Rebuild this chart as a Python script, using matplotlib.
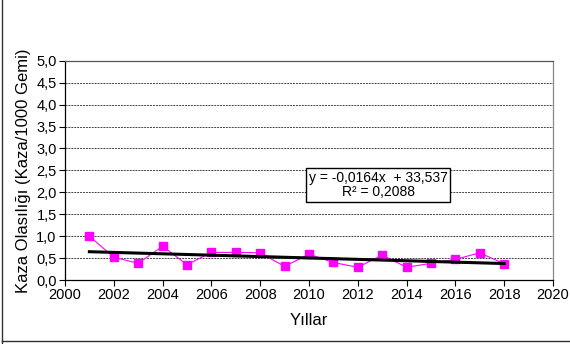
import matplotlib
matplotlib.use("Agg")
import matplotlib.pyplot as plt
import numpy as np
from matplotlib.lines import Line2D

years = [2001, 2002, 2003, 2004, 2005, 2006, 2007, 2008, 2009, 2010,
         2011, 2012, 2013, 2014, 2015, 2016, 2017, 2018]
values = [1.00, 0.52, 0.38, 0.77, 0.35, 0.63, 0.63, 0.62, 0.31, 0.59,
          0.40, 0.29, 0.57, 0.29, 0.38, 0.47, 0.62, 0.37]
x_ticks = [2000, 2002, 2004, 2006, 2008, 2010, 2012, 2014, 2016, 2018, 2020]
y_ticks = [0.0, 0.5, 1.0, 1.5, 2.0, 2.5, 3.0, 3.5, 4.0, 4.5, 5.0]
eq_text = "y = -0,0164x  + 33,537\nR² = 0,2088"

plt.rcParams['font.family'] = ['Liberation Sans', 'DejaVu Sans']

fig = plt.figure(figsize=(5.7, 3.44), dpi=100)
ax = fig.add_axes([0.114, 0.186, 0.856, 0.6375])

for y in y_ticks[1:-1]:
    ax.axhline(y, color='#444444', lw=0.7, ls=(0, (2, 1)), zorder=1)

ax.plot(years, values, color='#FF00FF', lw=0.8, marker='s', ms=5.5,
        markerfacecolor='#FF00FF', markeredgecolor='#FF00FF', zorder=3)

coef = np.polyfit(years, values, 1)
xs = np.array([years[0], years[-1]])
ax.plot(xs, np.polyval(coef, xs), color='black', lw=2.2, zorder=4)

ax.set_xlim(2000, 2020)
ax.set_ylim(0, 5)
ax.set_xticks(x_ticks)
ax.set_yticks(y_ticks)
ax.set_yticklabels([f"{v:.1f}".replace('.', ',') for v in y_ticks])
ax.tick_params(direction='out', length=4, width=0.8, labelsize=10.5, color='black', pad=2)

ax.spines['left'].set_color('black')
ax.spines['bottom'].set_color('black')
ax.spines['top'].set_color('#555555')
ax.spines['right'].set_color('#888888')
for s in ax.spines.values():
    s.set_linewidth(0.9)

ax.set_xlabel("Yıllar", fontsize=12, labelpad=8)
ax.set_ylabel("Kaza Olasılığı (Kaza/1000 Gemi)", fontsize=12, labelpad=4)

ax.text(0.642, 0.433, eq_text, transform=ax.transAxes, ha='center', va='center',
        fontsize=10, linespacing=1.0, zorder=5,
        bbox=dict(boxstyle='square,pad=0.2', facecolor='white', edgecolor='black', lw=1.0))

fig.add_artist(Line2D([2/570, 2/570], [0, 1 - 341/344], transform=fig.transFigure,
                      color='#333333', lw=1.0))
fig.add_artist(Line2D([2/570, 1], [1 - 341/344, 1 - 341/344], transform=fig.transFigure,
                      color='#333333', lw=1.0))
fig.add_artist(Line2D([2/570, 2/570], [1 - 341/344, 1], transform=fig.transFigure,
                      color='#333333', lw=1.0))

fig.savefig("out.png", dpi=100)
